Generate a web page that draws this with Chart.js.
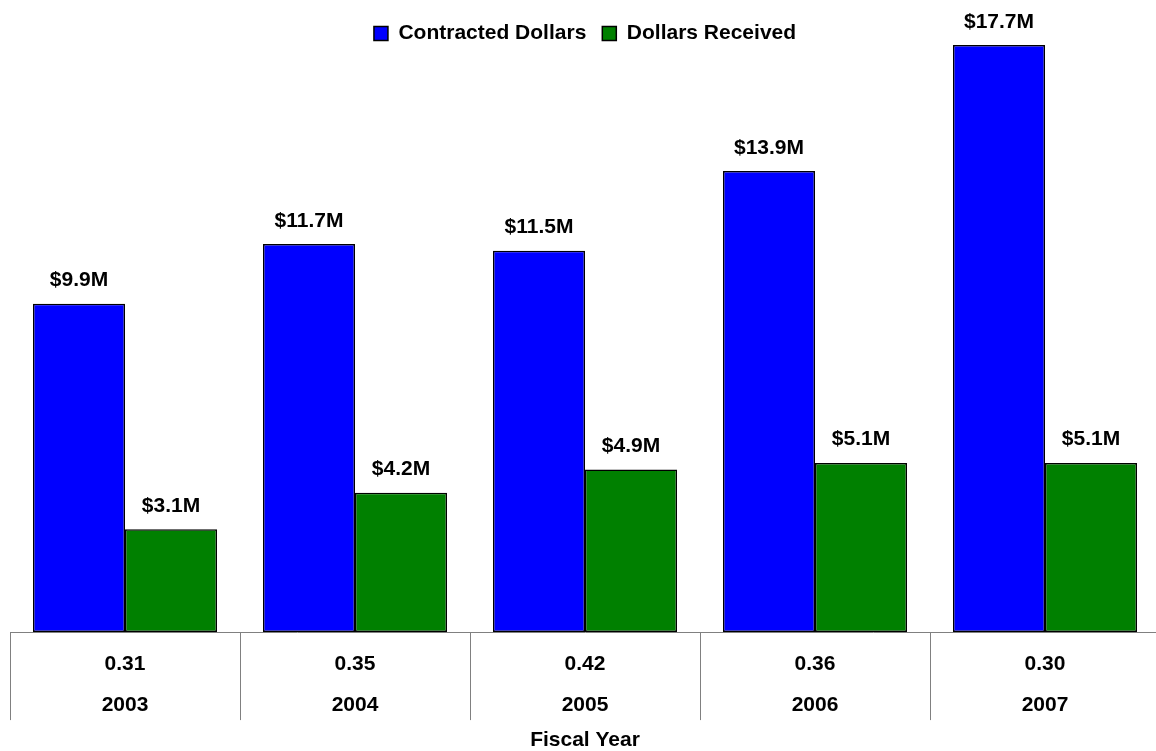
<!DOCTYPE html>
<html>
<head>
<meta charset="utf-8">
<script src="https://cdn.jsdelivr.net/npm/chart.js@4/dist/chart.umd.min.js"></script>
<style>
  html, body { margin: 0; padding: 0; overflow: hidden; background: #fff; }
  #wrap { position: relative; width: 1160px; height: 751px; }
</style>
</head>
<body>
<div id="wrap"><canvas id="c"></canvas></div>
<script>
const years = ["2003", "2004", "2005", "2006", "2007"];
const ratios = ["0.31", "0.35", "0.42", "0.36", "0.30"];
const contracted = [9.9, 11.7, 11.5, 13.9, 17.7];
const received = [3.1, 4.2, 4.9, 5.1, 5.1];
const seriesNames = ["Contracted Dollars", "Dollars Received"];

const FONT = "'Liberation Sans', Arial, Helvetica, sans-serif";
Chart.defaults.font.family = FONT;
Chart.defaults.color = "#000";

const categoryLabels = years.map((y, i) => [ratios[i], y]);

const valueLabelPlugin = {
  id: "valueLabels",
  afterDatasetsDraw(chart) {
    const ctx = chart.ctx;
    ctx.save();
    ctx.font = "bold 21px " + FONT;
    ctx.fillStyle = "#000";
    ctx.textAlign = "center";
    ctx.textBaseline = "alphabetic";
    chart.data.datasets.forEach((ds, di) => {
      const meta = chart.getDatasetMeta(di);
      meta.data.forEach((el, i) => {
        const v = ds.data[i];
        ctx.fillText("$" + v.toFixed(1) + "M", el.x, el.y - 17.5);
      });
    });
    ctx.restore();
  }
};

new Chart(document.getElementById("c"), {
  type: "bar",
  data: {
    labels: categoryLabels,
    datasets: [
      {
        label: seriesNames[0],
        data: contracted,
        backgroundColor: "#0000FF",
        borderColor: "#000",
        borderWidth: 1.5,
        borderSkipped: false,
        categoryPercentage: 0.8,
        barPercentage: 1.0,
        clip: false
      },
      {
        label: seriesNames[1],
        data: received,
        backgroundColor: "#008000",
        borderColor: "#000",
        borderWidth: 1.5,
        borderSkipped: false,
        categoryPercentage: 0.8,
        barPercentage: 1.0,
        clip: false
      }
    ]
  },
  options: {
    responsive: true,
    maintainAspectRatio: false,
    animation: false,
    layout: { padding: { left: 10, right: 0, top: 7, bottom: 0 } },
    plugins: {
      tooltip: { enabled: false },
      legend: {
        display: true,
        position: "top",
        maxHeight: 38,
        labels: {
          boxWidth: 14,
          boxHeight: 14,
          padding: 16,
          color: "#000",
          font: { size: 21, weight: "bold", family: FONT }
        }
      }
    },
    scales: {
      x: {
        offset: true,
        grid: {
          offset: true,
          drawOnChartArea: false,
          drawTicks: true,
          tickLength: 88,
          color: "#808080",
          lineWidth: 1
        },
        border: { display: true, color: "#808080", width: 1 },
        ticks: {
          autoSkip: false,
          maxRotation: 0,
          minRotation: 0,
          padding: -76,
          color: "#000",
          font: { size: 21, weight: "bold", family: FONT, lineHeight: 1.95 }
        },
        title: {
          display: true,
          text: "Fiscal Year",
          color: "#000",
          font: { size: 21, weight: "bold", family: FONT, lineHeight: 1 },
          padding: { top: 80, bottom: 0 }
        }
      },
      y: {
        display: false,
        min: 0,
        max: 17.7
      }
    }
  },
  plugins: [valueLabelPlugin]
});
</script>
</body>
</html>
